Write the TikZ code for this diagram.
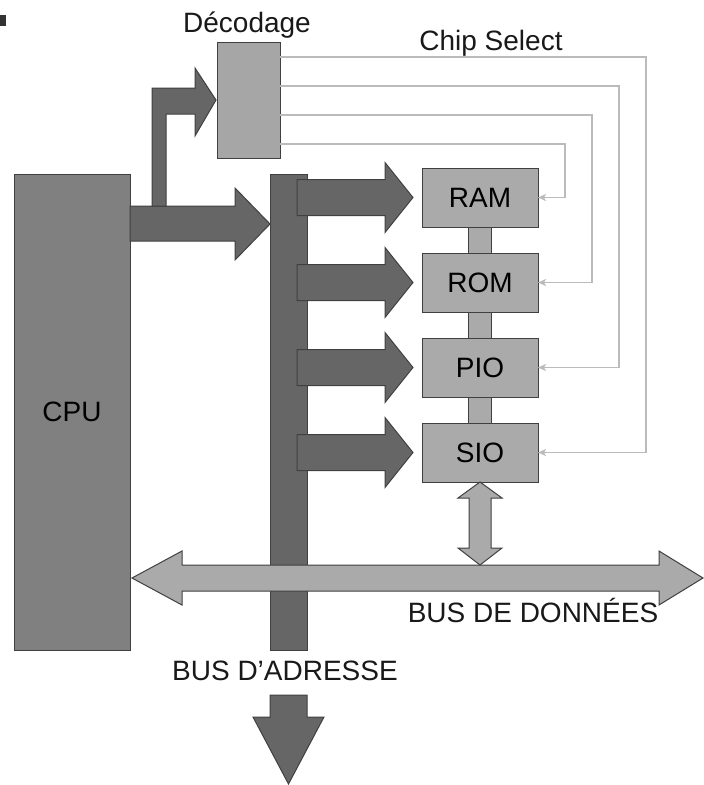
\documentclass[tikz,border=0pt]{standalone}
\usepackage{fontspec}
\setmainfont{Liberation Sans}
\usetikzlibrary{positioning,calc,arrows.meta,backgrounds}

\definecolor{cpugray}{HTML}{808080}
\definecolor{decgray}{HTML}{A6A6A6}
\definecolor{boxgray}{HTML}{AAAAAA}
\definecolor{busgray}{HTML}{666666}
\definecolor{linegray}{HTML}{BBBBBB}
\definecolor{edgegray}{HTML}{404040}

\begin{document}
\begin{tikzpicture}[
  x=1pt, y=-1pt,
  font=\fontsize{28}{33}\selectfont,
  every node/.style={inner sep=0pt, outer sep=0pt},
  unit/.style={draw=edgegray, line width=1pt, fill=boxgray, minimum width=116pt, minimum height=59pt},
  cpubox/.style={draw=edgegray, line width=1pt, fill=cpugray, minimum width=116pt, minimum height=476pt},
  decbox/.style={draw=edgegray, line width=1pt, fill=decgray, minimum width=63pt, minimum height=116pt},
  busbar/.style={draw=edgegray, line width=1pt, fill=busgray, minimum width=37pt, minimum height=476pt},
  busarrow/.style={draw=edgegray, line width=1pt, fill=busgray},
  databus/.style={draw=edgegray, line width=1pt, fill=boxgray},
  memlink/.style={draw=edgegray, line width=1pt, fill=boxgray},
  csline/.style={draw=linegray, line width=1.8pt, -{Stealth[length=8pt,width=7pt,inset=2pt]}},
  lbl/.style={text=black!90}
]
\useasboundingbox (0,0) rectangle (704,785);

\node[fill=black!80, minimum width=6pt, minimum height=11pt, anchor=north west] (puce) at (0,15) {};

% blocs
\node[cpubox] (cpu) at (72,412) {CPU};
\node[decbox] (dec) at (248.5,100) {};
\node[busbar] (abus) at (288.5,412) {};
\node[unit] (ram) at (480,197.5) {RAM};
\node[unit, below=26pt of ram] (rom) {ROM};
\node[unit, below=26pt of rom] (pio) {PIO};
\node[unit, below=26pt of pio] (sio) {SIO};
\begin{scope}[on background layer]
  \draw[memlink] ($(ram.south)+(-11.5,0)$) rectangle ($(sio.north)+(11.5,0)$);
\end{scope}

% CPU -> bus d'adresse et decodage
\coordinate (cputip) at ($(abus.north west)+(0,50)$);
\draw[busarrow] (cputip) -- ++(-35,-36) -- ++(0,18) -- ++(-105,0) -- ++(0,35)
  -- ++(105,0) -- ++(0,19) -- cycle;
\coordinate (dectip) at ($(dec.west)+(-1,0)$);
\draw[busarrow] ($(dectip)+(-64,106)$) -- ++(0,-118) -- ++(43,0) -- ++(0,-20)
  -- (dectip) -- ++(-21,36) -- ++(0,-22) -- ++(-29,0) -- ++(0,92) -- cycle;

% bus d'adresse -> boitiers
\foreach \m in {ram,rom,pio,sio}
  \draw[busarrow] ($(\m.west)+(-9,0)$) -- ++(-28,-35) -- ++(0,17) -- ++(-88,0)
    -- ++(0,36) -- ++(88,0) -- ++(0,17) -- cycle;

% bus d'adresse vers le bas
\coordinate (abend) at ($(abus.south)+(0,134)$);
\draw[busarrow] (abend) -- ++(-35.5,-67) -- ++(17,0) -- ++(0,-22) -- ++(37,0)
  -- ++(0,22) -- ++(17,0) -- cycle;

% bus de donnees
\coordinate (dbl) at ($(cpu.east)+(2,166)$);
\coordinate (dbr) at (703,578);
\draw[databus] (dbl) -- ++(50,-27) -- ++(0,14) -- ($(dbr)+(-44,-13)$) -- ++(0,-14)
  -- (dbr) -- ++(-44,27) -- ++(0,-14) -- ($(dbl)+(50,13)$) -- ++(0,14) -- cycle;
\draw[databus] (sio.south) -- ++(22,16) -- ++(-11,0) -- ++(0,50) -- ++(11,0)
  -- ++(-22,17) -- ++(-22,-17) -- ++(11,0) -- ++(0,-50) -- ++(-11,0) -- cycle;

% chip select
\foreach \y/\x/\m in {57/646/sio, 86/619/pio, 115/592/rom, 144/565/ram}
  \draw[csline] (dec.east |- 0,\y) -- (\x,\y) |- (\m.east);

% textes
\node[lbl, anchor=base] (declbl) at (247,32) {Décodage};
\node[lbl, anchor=base] (cslbl) at (491,50) {Chip Select};
\node[lbl, anchor=base] (dblbl) at (533,622) {BUS DE DONNÉES};
\node[lbl, anchor=base] (ablbl) at (285,680) {BUS D’ADRESSE};
\end{tikzpicture}
\end{document}
